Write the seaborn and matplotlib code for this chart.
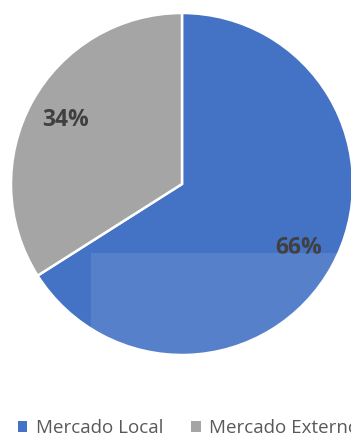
import matplotlib
matplotlib.use("Agg")
import matplotlib.pyplot as plt
from matplotlib.patches import Rectangle
import seaborn as sns

categories = ["Mercado Local", "Mercado Externo"]
shares = [66, 34]
colors = ["#4472C4", "#A5A5A5"]

sns.set_theme(style="white")
plt.rcParams["font.family"] = ["Open Sans", "DejaVu Sans"]

fig = plt.figure(figsize=(3.51, 4.36), dpi=100)
ax = fig.add_axes([11 / 351, 1 - (184 + 171) / 436, 342 / 351, 342 / 436])

wedges, texts, autotexts = ax.pie(
    shares,
    colors=colors,
    startangle=90,
    counterclock=False,
    radius=1.0,
    autopct=lambda p: f"{p:.0f}%",
    pctdistance=0.78,
    wedgeprops=dict(edgecolor="white", linewidth=1.8),
    textprops=dict(fontsize=16.5, fontweight="bold", color="#404040"),
)
ax.set_xlim(-1, 1)
ax.set_ylim(-1, 1)
ax.set_aspect("equal")
ax.axis("off")

# light band across the lower right of the pie
band = Rectangle((-0.532, -1.05), 1.7, 1.05 - 0.404, facecolor="white",
                 alpha=0.1, edgecolor="none", zorder=3)
ax.add_patch(band)

leg = fig.legend(
    wedges, categories,
    loc="center left", bbox_to_anchor=(18 / 351, 1 - 428 / 436),
    ncol=2, frameon=False, borderpad=0, borderaxespad=0,
    fontsize=13.5, handlelength=0.5, handleheight=0.5, handletextpad=0.45,
    columnspacing=1.5, labelcolor="#595959",
)
for h in leg.legend_handles:
    h.set_edgecolor("none")

fig.savefig("out.png", dpi=100)
